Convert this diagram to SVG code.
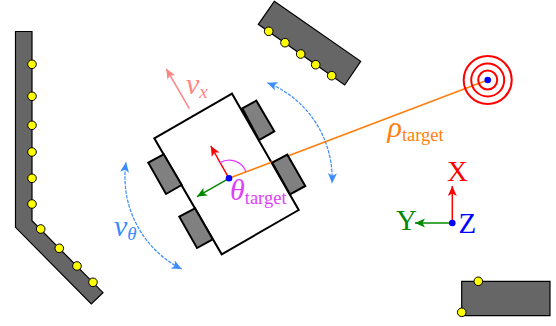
<svg xmlns="http://www.w3.org/2000/svg" width="556" height="326" viewBox="0 0 556 326">
<style>
.wall{fill:#666;stroke:#000;stroke-width:1.2;stroke-linejoin:miter}
.dot{fill:#ff0;stroke:#000;stroke-width:1}
.wheel{fill:#808080;stroke:#000;stroke-width:2}
.ring{fill:none;stroke:#f00;stroke-width:2}
.arc{fill:none;stroke:#3a8cff;stroke-width:1.2;stroke-dasharray:3.500 1.200;marker-start:url(#hb);marker-end:url(#hb)}
text{font-family:"Liberation Serif",serif}
.i{font-style:italic}
</style>
<defs>
<marker id="hb" markerUnits="userSpaceOnUse" markerWidth="16" markerHeight="12" refX="10" refY="6" orient="auto-start-reverse"><path d="M0,1.500 L10,6 L0,10.500 L2.500,6 Z" fill="#3a8cff"/></marker>
<marker id="hp" markerUnits="userSpaceOnUse" markerWidth="16" markerHeight="12" refX="10" refY="6" orient="auto"><path d="M0,1.500 L10,6 L0,10.500 L2.500,6 Z" fill="#ff8585"/></marker>
<marker id="hr" markerUnits="userSpaceOnUse" markerWidth="16" markerHeight="12" refX="10" refY="6" orient="auto"><path d="M0,1.500 L10,6 L0,10.500 L2.500,6 Z" fill="#f00"/></marker>
<marker id="hg" markerUnits="userSpaceOnUse" markerWidth="16" markerHeight="12" refX="10" refY="6" orient="auto"><path d="M0,1.500 L10,6 L0,10.500 L2.500,6 Z" fill="#080"/></marker>
</defs>
<g id="wall-left"><path class="wall" d="M15.500,31.500H32V220.700L103,292.700L91.300,304L15.500,227.300Z"/>
<circle class="dot" cx="32" cy="64.300" r="4.300"/><circle class="dot" cx="32" cy="96.300" r="4.300"/><circle class="dot" cx="32" cy="125.300" r="4.300"/><circle class="dot" cx="32" cy="152" r="4.300"/><circle class="dot" cx="32" cy="178.300" r="4.300"/><circle class="dot" cx="32" cy="204" r="4.300"/><circle class="dot" cx="40.700" cy="229" r="4.300"/><circle class="dot" cx="59.300" cy="248.300" r="4.300"/><circle class="dot" cx="77" cy="266" r="4.300"/><circle class="dot" cx="93" cy="282.300" r="4.300"/></g>
<g id="wall-top"><path class="wall" d="M274.300,1.300L360.700,61.300L344.700,85L258.300,24.300Z"/>
<circle class="dot" cx="268.700" cy="31.300" r="4.300"/><circle class="dot" cx="285" cy="42.700" r="4.300"/><circle class="dot" cx="300.700" cy="54" r="4.300"/><circle class="dot" cx="315.700" cy="64.700" r="4.300"/><circle class="dot" cx="331.700" cy="75.700" r="4.300"/></g>
<g id="wall-bottom"><path class="wall" d="M461.700,281.300H550V315.700H461.700Z"/>
<circle class="dot" cx="478.300" cy="281.300" r="4.300"/><circle class="dot" cx="461.700" cy="312.300" r="4.300"/></g>
<g id="robot-body"><path d="M232,93.700L154.300,138.300L221.700,254.300L298.700,210Z" fill="#fff" stroke="#000" stroke-width="2"/></g>
<g id="connectors">
<line x1="229" y1="178.300" x2="487.700" y2="80" stroke="#ff7f0e" stroke-width="1.600"/>
<line x1="229" y1="178.300" x2="210.800" y2="146" stroke="#f00" stroke-width="1.500" marker-end="url(#hr)"/>
<line x1="229" y1="178.300" x2="197" y2="196.600" stroke="#080" stroke-width="1.500" marker-end="url(#hg)"/>
<line x1="189.300" y1="108.700" x2="166.300" y2="68.800" stroke="#ff8585" stroke-width="1.500" marker-end="url(#hp)"/>
<path d="M220,162.600A18,18 0 0 1 246,172" fill="none" stroke="#e040fb" stroke-width="1.300"/>
<path class="arc" d="M267.300,82.700A103,103 0 0 1 332,183.300"/>
<path class="arc" d="M126,162.300A103,103 0 0 0 181.700,269"/>
<line x1="452.300" y1="223" x2="452.300" y2="186" stroke="#f00" stroke-width="1.500" marker-end="url(#hr)"/>
<line x1="452.300" y1="223" x2="415" y2="223" stroke="#080" stroke-width="1.500" marker-end="url(#hg)"/>
</g>
<g id="wheels">
<path class="wheel" d="M242.300,108.300L256.300,100.700L274.300,131.300L259,140Z"/>
<path class="wheel" d="M272.300,162.700L287.300,154.700L305.300,186L290,194.300Z"/>
<path class="wheel" d="M148.300,162.700L163.700,154.300L181.700,185L166,194Z"/>
<path class="wheel" d="M179.300,216.700L195,208.300L212.700,239.300L197,248Z"/>
</g>
<g id="robot-center"><circle cx="229" cy="178.300" r="3.300" fill="#00f"/></g>
<g id="target"><circle class="ring" cx="487.700" cy="80" r="24"/><circle class="ring" cx="487.700" cy="80" r="16.500"/><circle class="ring" cx="487.700" cy="80" r="9.500"/><circle cx="487.700" cy="80" r="3.300" fill="#00f"/></g>
<g id="frame-origin"><circle cx="452.300" cy="223" r="3.300" fill="#00f"/></g>
<g id="labels">
<text x="186" y="94" font-size="30" fill="#ff8585" class="i">v<tspan font-size="19" dy="4">x</tspan></text>
<text x="114" y="236" font-size="30" fill="#3a8cff" class="i">v<tspan font-size="19" dy="4">θ</tspan></text>
<text x="387.500" y="137" font-size="30" fill="#ff7f0e" class="i">ρ<tspan font-size="18.500" dy="4" font-style="normal">target</tspan></text>
<text x="230" y="200" font-size="30" fill="#e040fb" class="i">θ<tspan font-size="18.500" dy="4" font-style="normal">target</tspan></text>
<text x="447" y="181" font-size="29" fill="#f00">X</text>
<text x="396" y="230" font-size="29" fill="#080">Y</text>
<text x="458.500" y="233" font-size="29" fill="#00f">Z</text>
</g>
</svg>
